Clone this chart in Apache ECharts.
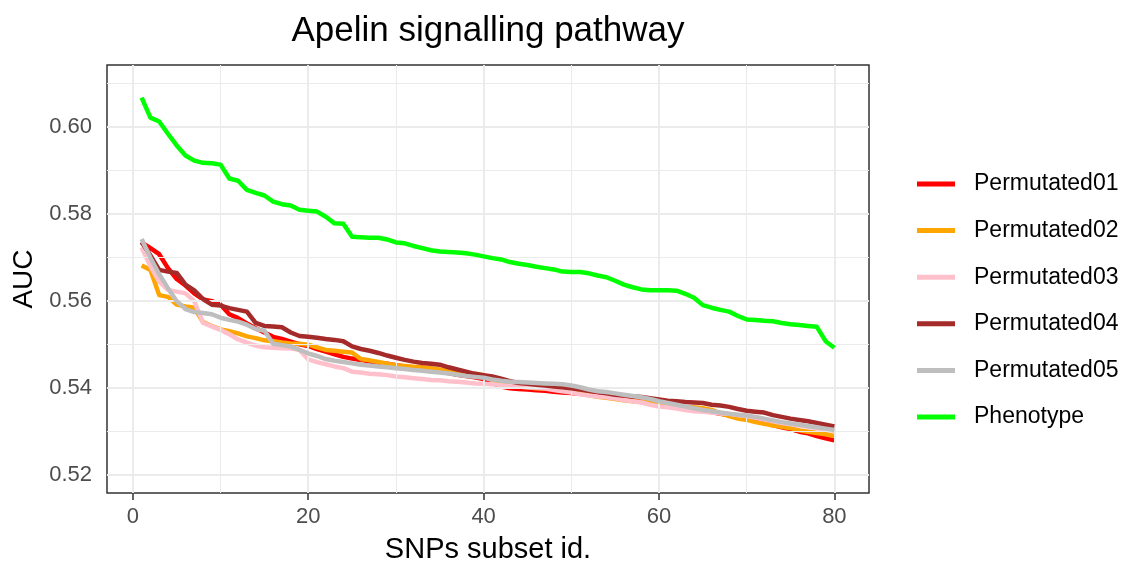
<!DOCTYPE html>
<html>
<head>
<meta charset="utf-8">
<title>Apelin signalling pathway</title>
<script src="https://cdn.jsdelivr.net/npm/echarts@6/dist/echarts.min.js"></script>
<style>
  html, body { margin: 0; padding: 0; background: #fff; }
  #chart { width: 1128px; height: 561px; }
</style>
</head>
<body>
<div id="chart"></div>
<script>
// SNP subset ids 1..80
const subsetIds = Array.from({ length: 80 }, (_, i) => i + 1)

const permutated01 = [
  0.5735, 0.5722, 0.5708, 0.5676, 0.5651, 0.5636, 0.5618, 0.5604, 0.5600, 0.5592,
  0.5570, 0.5561, 0.5549, 0.5538, 0.5528, 0.5518, 0.5513, 0.5507, 0.5501, 0.5497,
  0.5490, 0.5484, 0.5478, 0.5472, 0.5468, 0.5465, 0.5461, 0.5458, 0.5456, 0.5453,
  0.5450, 0.5447, 0.5444, 0.5441, 0.5438, 0.5435, 0.5431, 0.5428, 0.5425, 0.5421,
  0.5412, 0.5404, 0.5400, 0.5398, 0.5397, 0.5395, 0.5394, 0.5392, 0.5390, 0.5389,
  0.5387, 0.5385, 0.5383, 0.5380, 0.5377, 0.5374, 0.5372, 0.5369, 0.5365, 0.5362,
  0.5359, 0.5356, 0.5353, 0.5350, 0.5348, 0.5345, 0.5341, 0.5338, 0.5334, 0.5331,
  0.5327, 0.5322, 0.5315, 0.5310, 0.5306, 0.5300, 0.5296, 0.5290, 0.5285, 0.5280
]
const permutated02 = [
  0.5682, 0.5672, 0.5614, 0.5610, 0.5592, 0.5588, 0.5585, 0.5552, 0.5543, 0.5535,
  0.5531, 0.5526, 0.5519, 0.5515, 0.5510, 0.5508, 0.5505, 0.5503, 0.5502, 0.5500,
  0.5494, 0.5488, 0.5486, 0.5484, 0.5482, 0.5467, 0.5464, 0.5460, 0.5456, 0.5453,
  0.5451, 0.5449, 0.5448, 0.5446, 0.5443, 0.5440, 0.5437, 0.5435, 0.5433, 0.5430,
  0.5418, 0.5410, 0.5406, 0.5404, 0.5402, 0.5400, 0.5399, 0.5398, 0.5396, 0.5392,
  0.5388, 0.5384, 0.5380, 0.5378, 0.5375, 0.5372, 0.5370, 0.5368, 0.5366, 0.5364,
  0.5361, 0.5358, 0.5357, 0.5356, 0.5354, 0.5350, 0.5342, 0.5336, 0.5330, 0.5327,
  0.5322, 0.5318, 0.5314, 0.5311, 0.5308, 0.5303, 0.5300, 0.5297, 0.5294, 0.5290
]
const permutated03 = [
  0.5724, 0.5680, 0.5645, 0.5626, 0.5622, 0.5618, 0.5600, 0.5550, 0.5542, 0.5534,
  0.5524, 0.5512, 0.5505, 0.5498, 0.5494, 0.5493, 0.5492, 0.5491, 0.5488, 0.5466,
  0.5460, 0.5455, 0.5450, 0.5446, 0.5438, 0.5436, 0.5433, 0.5432, 0.5430, 0.5427,
  0.5425, 0.5423, 0.5421, 0.5419, 0.5418, 0.5416, 0.5415, 0.5413, 0.5411, 0.5410,
  0.5409, 0.5407, 0.5405, 0.5404, 0.5402, 0.5401, 0.5399, 0.5396, 0.5393, 0.5390,
  0.5386, 0.5383, 0.5381, 0.5379, 0.5376, 0.5373, 0.5370, 0.5367, 0.5362, 0.5358,
  0.5356, 0.5353, 0.5350, 0.5347, 0.5346, 0.5344, 0.5342, 0.5341, 0.5338, 0.5336,
  0.5332, 0.5328, 0.5324, 0.5320, 0.5317, 0.5314, 0.5311, 0.5308, 0.5305, 0.5302
]
const permutated04 = [
  0.5736, 0.5705, 0.5672, 0.5668, 0.5665, 0.5638, 0.5625, 0.5605, 0.5592, 0.5590,
  0.5584, 0.5580, 0.5576, 0.5550, 0.5543, 0.5542, 0.5540, 0.5528, 0.5520, 0.5518,
  0.5516, 0.5513, 0.5511, 0.5508, 0.5496, 0.5490, 0.5486, 0.5481, 0.5475, 0.5470,
  0.5465, 0.5461, 0.5458, 0.5456, 0.5454, 0.5448, 0.5443, 0.5438, 0.5433, 0.5430,
  0.5427, 0.5422, 0.5416, 0.5412, 0.5410, 0.5408, 0.5406, 0.5404, 0.5402, 0.5400,
  0.5397, 0.5394, 0.5391, 0.5388, 0.5385, 0.5383, 0.5381, 0.5380, 0.5377, 0.5374,
  0.5371, 0.5370, 0.5368, 0.5367, 0.5366, 0.5362, 0.5360, 0.5357, 0.5352, 0.5348,
  0.5346, 0.5344, 0.5338, 0.5334, 0.5330, 0.5327, 0.5324, 0.5320, 0.5316, 0.5312
]
const permutated05 = [
  0.5743, 0.5700, 0.5662, 0.5630, 0.5600, 0.5582, 0.5575, 0.5573, 0.5570, 0.5562,
  0.5557, 0.5553, 0.5546, 0.5536, 0.5532, 0.5502, 0.5499, 0.5496, 0.5488, 0.5480,
  0.5474, 0.5467, 0.5463, 0.5460, 0.5457, 0.5454, 0.5452, 0.5450, 0.5448, 0.5446,
  0.5444, 0.5442, 0.5440, 0.5438, 0.5436, 0.5434, 0.5431, 0.5428, 0.5426, 0.5424,
  0.5420, 0.5417, 0.5415, 0.5414, 0.5413, 0.5412, 0.5411, 0.5410, 0.5409, 0.5406,
  0.5402, 0.5397, 0.5393, 0.5391, 0.5388, 0.5385, 0.5382, 0.5379, 0.5375, 0.5370,
  0.5366, 0.5362, 0.5358, 0.5354, 0.5350, 0.5347, 0.5344, 0.5341, 0.5339, 0.5337,
  0.5334, 0.5330, 0.5326, 0.5322, 0.5319, 0.5316, 0.5313, 0.5310, 0.5307, 0.5304
]
const phenotype = [
  0.6068, 0.6022, 0.6013, 0.5985, 0.5958, 0.5935, 0.5923, 0.5918, 0.5917, 0.5914,
  0.5882, 0.5877, 0.5856, 0.5849, 0.5843, 0.5829, 0.5823, 0.5820, 0.5810, 0.5808,
  0.5806, 0.5794, 0.5779, 0.5778, 0.5748, 0.5747, 0.5746, 0.5746, 0.5742, 0.5735,
  0.5733, 0.5727, 0.5722, 0.5717, 0.5714, 0.5713, 0.5712, 0.5710, 0.5707, 0.5703,
  0.5699, 0.5696, 0.5690, 0.5686, 0.5683, 0.5679, 0.5676, 0.5673, 0.5668, 0.5667,
  0.5667, 0.5664, 0.5659, 0.5655, 0.5647, 0.5638, 0.5632, 0.5627, 0.5625, 0.5625,
  0.5625, 0.5624, 0.5617, 0.5608, 0.5591, 0.5585, 0.5580, 0.5576, 0.5566, 0.5558,
  0.5557, 0.5555, 0.5554, 0.5550, 0.5547, 0.5545, 0.5543, 0.5541, 0.5508, 0.5493
]

// tick labels and grid lines
const xTicks = [0, 20, 40, 60, 80]
const xMinor = [10, 30, 50, 70]
const yTicks = [0.52, 0.54, 0.56, 0.58, 0.60]
const yMinor = [0.53, 0.55, 0.57, 0.59, 0.61]

const seriesNames = ['Permutated01', 'Permutated02', 'Permutated03', 'Permutated04', 'Permutated05', 'Phenotype']
const seriesValues = [permutated01, permutated02, permutated03, permutated04, permutated05, phenotype]
const colors = ['#ff0000', '#ffa500', '#ffc0cb', '#a52a2a', '#bebebe', '#00ff00']

const font = "'Liberation Sans', Arial, sans-serif"
const chart = echarts.init(document.getElementById('chart'))

const gridLines = [
  ...xMinor.map(v => ({ xAxis: v, lineStyle: { width: 1 } })),
  ...yMinor.map(v => ({ yAxis: v, lineStyle: { width: 1 } })),
  ...xTicks.map(v => ({ xAxis: v, lineStyle: { width: 2 } })),
  ...yTicks.map(v => ({ yAxis: v, lineStyle: { width: 2 } }))
]

const series = [{
  name: 'grid',
  type: 'line',
  data: [],
  z: 1,
  silent: true,
  markLine: {
    silent: true,
    symbol: ['none', 'none'],
    label: { show: false },
    lineStyle: { color: '#ebebeb', type: 'solid' },
    emphasis: { disabled: true },
    data: gridLines
  }
}]

seriesNames.forEach((name, i) => {
  series.push({
    name: name,
    type: 'line',
    z: 2 + i,
    showSymbol: false,
    symbol: 'none',
    color: colors[i],
    lineStyle: { width: 4.5, color: colors[i], join: 'round' },
    data: subsetIds.map((x, k) => [x, seriesValues[i][k]])
  })
})

chart.setOption({
  animation: false,
  backgroundColor: '#ffffff',
  title: {
    text: 'Apelin signalling pathway',
    left: 488,
    top: 14,
    padding: 0,
    textAlign: 'center',
    textStyle: {
      fontFamily: font,
      fontSize: 35,
      fontWeight: 'normal',
      color: '#000'
    }
  },
  grid: {
    left: 107,
    top: 65,
    right: 259,
    bottom: 68,
    outerBoundsMode: 'none',
    show: true,
    borderColor: '#333333',
    borderWidth: 1.5,
    backgroundColor: '#ffffff'
  },
  legend: {
    orient: 'vertical',
    left: 917,
    top: 172,
    padding: 0,
    icon: 'rect',
    itemWidth: 38,
    itemHeight: 5,
    itemGap: 22.6,
    data: seriesNames,
    textStyle: {
      fontFamily: font,
      fontSize: 23,
      lineHeight: 24,
      color: '#000',
      padding: [0, 0, 0, 14]
    }
  },
  xAxis: {
    type: 'value',
    min: -2.95,
    max: 83.95,
    name: 'SNPs subset id.',
    nameLocation: 'middle',
    nameGap: 42,
    nameTextStyle: { fontFamily: font, fontSize: 29, color: '#000' },
    axisLine: { show: false },
    axisTick: {
      show: true,
      length: 7,
      customValues: xTicks,
      lineStyle: { color: '#333333', width: 1.5 }
    },
    axisLabel: {
      customValues: xTicks,
      margin: 13,
      fontFamily: font,
      fontSize: 22,
      color: '#4d4d4d'
    },
    splitLine: { show: false }
  },
  yAxis: {
    type: 'value',
    min: 0.5159,
    max: 0.6143,
    name: 'AUC',
    nameLocation: 'middle',
    nameRotate: 90,
    nameGap: 68,
    nameTextStyle: { fontFamily: font, fontSize: 28, color: '#000' },
    axisLine: { show: false },
    axisTick: {
      show: true,
      length: 7,
      customValues: yTicks,
      lineStyle: { color: '#333333', width: 1.5 }
    },
    axisLabel: {
      customValues: yTicks,
      margin: 15,
      fontFamily: font,
      fontSize: 22,
      color: '#4d4d4d',
      formatter: v => v.toFixed(2)
    },
    splitLine: { show: false }
  },
  series: series
})
</script>
</body>
</html>
